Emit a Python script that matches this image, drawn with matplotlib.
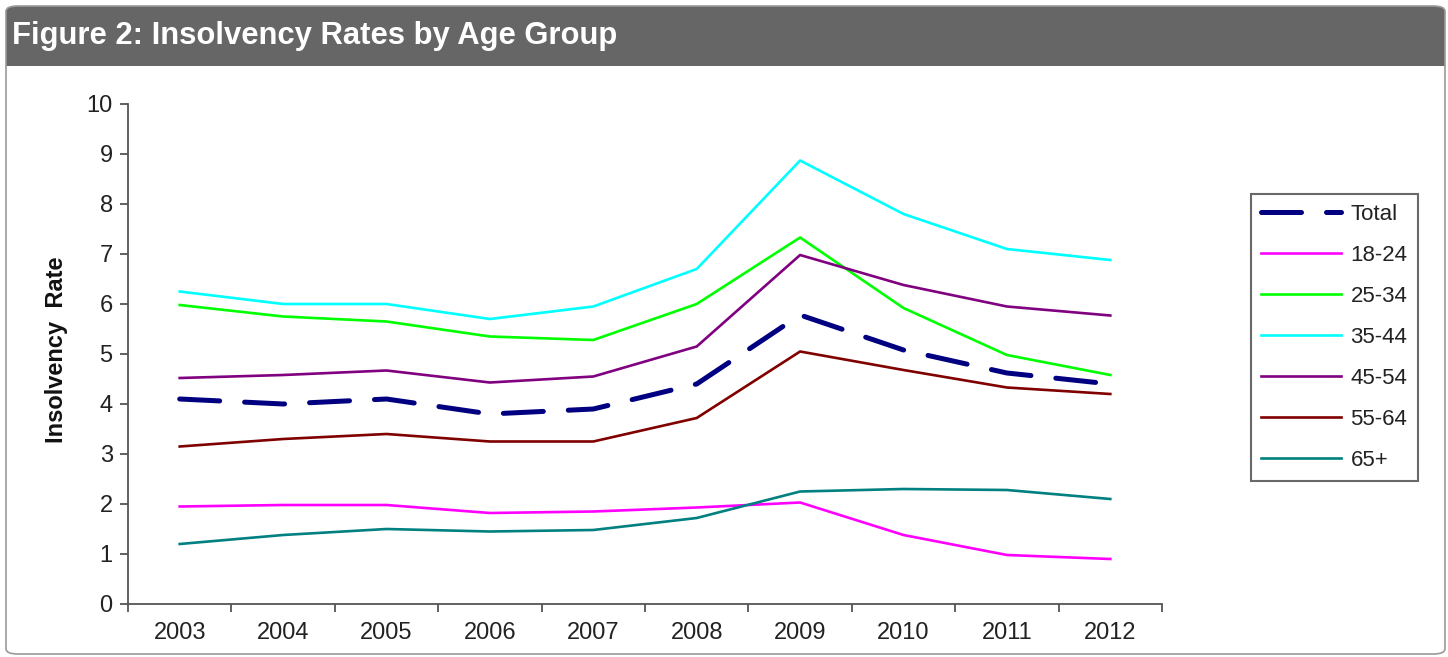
import matplotlib
matplotlib.use("Agg")
import matplotlib.pyplot as plt
from matplotlib.patches import FancyBboxPatch, Rectangle
import numpy as np

plt.rcParams['font.family'] = ['Liberation Sans', 'DejaVu Sans']

years = ['2003', '2004', '2005', '2006', '2007', '2008', '2009', '2010', '2011', '2012']

total = [4.10, 4.00, 4.10, 3.80, 3.90, 4.40, 5.78, 5.08, 4.62, 4.40]
age_18_24 = [1.95, 1.98, 1.98, 1.82, 1.85, 1.93, 2.03, 1.38, 0.98, 0.90]
age_25_34 = [5.98, 5.75, 5.65, 5.35, 5.28, 6.00, 7.33, 5.92, 4.98, 4.58]
age_35_44 = [6.25, 6.00, 6.00, 5.70, 5.95, 6.70, 8.87, 7.80, 7.10, 6.88]
age_45_54 = [4.52, 4.58, 4.67, 4.43, 4.55, 5.15, 6.98, 6.38, 5.95, 5.77]
age_55_64 = [3.15, 3.30, 3.40, 3.25, 3.25, 3.72, 5.05, 4.68, 4.33, 4.20]
age_65_plus = [1.20, 1.38, 1.50, 1.45, 1.48, 1.72, 2.25, 2.30, 2.28, 2.10]

series = [
    ('18-24', age_18_24, '#ff00ff'),
    ('25-34', age_25_34, '#00ff00'),
    ('35-44', age_35_44, '#00ffff'),
    ('45-54', age_45_54, '#800080'),
    ('55-64', age_55_64, '#800000'),
    ('65+', age_65_plus, '#008080'),
]

W, H = 1448, 657
fig = plt.figure(figsize=(W / 100, H / 100), dpi=100)


# pixel coords -> figure fraction
def fx(px):
    return px / W


def fy(py):
    return 1 - py / H


# grey header strip: rounded top, square bottom
head_round = FancyBboxPatch((fx(6), fy(40)), fx(1439), fy(6) - fy(40),
                            boxstyle="round,pad=0,rounding_size=0.008",
                            transform=fig.transFigure, facecolor='#666666',
                            edgecolor='none', zorder=1)
head_rect = Rectangle((fx(6), fy(66)), fx(1439), fy(20) - fy(66),
                      transform=fig.transFigure, facecolor='#666666',
                      edgecolor='none', zorder=1)
frame = FancyBboxPatch((fx(6), fy(654)), fx(1439), fy(6) - fy(654),
                       boxstyle="round,pad=0,rounding_size=0.008",
                       transform=fig.transFigure, facecolor='none',
                       edgecolor='#9a9a9a', linewidth=1.2, zorder=2)
fig.patches.extend([head_round, head_rect, frame])
fig.text(fx(12), fy(36), 'Figure 2: Insolvency Rates by Age Group',
         color='white', fontsize=22.3, fontweight='bold', va='center',
         ha='left', zorder=3)

ax = fig.add_axes([fx(128), fy(604), fx(1162) - fx(128), fy(104) - fy(604)])
ax.set_zorder(5)
ax.set_facecolor('none')
x = np.arange(len(years))

ax.plot(x, total, color='#000080', linewidth=3.6, dashes=(8, 5),
        dash_capstyle='round', label='Total', zorder=5)
for name, vals, col in series:
    ax.plot(x, vals, color=col, linewidth=1.9, label=name, zorder=4)

ax.set_xlim(-0.5, len(years) - 0.5)
ax.set_ylim(0, 10)
ax.set_yticks(range(0, 11))
ax.set_xticks(x)
ax.set_xticklabels(years)
ax.set_xticks(np.arange(-0.5, len(years)), minor=True)
ax.tick_params(axis='x', which='major', length=0, pad=13, labelsize=17,
               labelcolor='#222222')
ax.tick_params(axis='x', which='minor', length=6, width=1.3, color='#555555',
               direction='out')
ax.tick_params(axis='y', length=6, width=1.3, color='#555555', pad=5,
               labelsize=17, labelcolor='#222222')
for side in ('top', 'right'):
    ax.spines[side].set_visible(False)
for side in ('left', 'bottom'):
    ax.spines[side].set_color('#555555')
    ax.spines[side].set_linewidth(1.3)

fig.text(fx(57), fy(350), 'Insolvency  Rate', rotation=90, fontsize=17,
         fontweight='bold', va='center', ha='center', color='#111111')

leg = ax.legend(loc='center', bbox_to_anchor=(fx(1334), fy(337.5)),
                bbox_transform=fig.transFigure, frameon=True, fancybox=False,
                fontsize=16, handlelength=3.6, handletextpad=0.45,
                labelspacing=0.9, borderpad=0.45, borderaxespad=0)
leg.get_frame().set_edgecolor('#444444')
leg.get_frame().set_linewidth(1.5)
for t in leg.get_texts():
    t.set_color('#222222')

fig.savefig('out.png', dpi=100)
